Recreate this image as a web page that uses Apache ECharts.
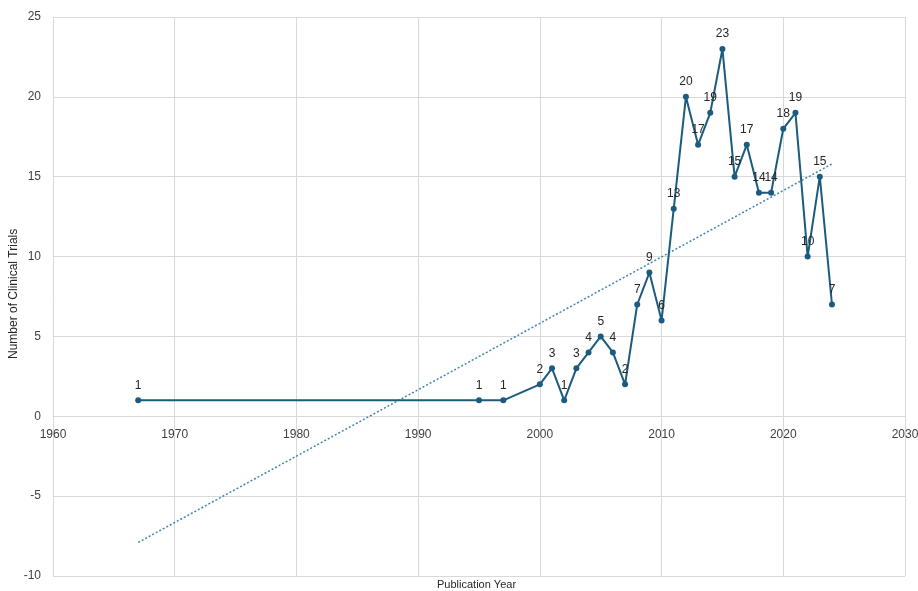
<!DOCTYPE html>
<html>
<head>
<meta charset="utf-8">
<style>
  html, body { margin: 0; padding: 0; background: #ffffff; }
  #chart { width: 918px; height: 591px; }
</style>
<script src="https://cdn.jsdelivr.net/npm/echarts@6/dist/echarts.min.js"></script>
</head>
<body>
<div id="chart"></div>
<script>
// Publication years and number of clinical trials per year
const years = [1967, 1995, 1997, 2000, 2001, 2002, 2003, 2004, 2005, 2006, 2007, 2008, 2009, 2010,
               2011, 2012, 2013, 2014, 2015, 2016, 2017, 2018, 2019, 2020, 2021, 2022, 2023, 2024];
const trials = [1, 1, 1, 2, 3, 1, 3, 4, 5, 4, 2, 7, 9, 6,
                13, 20, 17, 19, 23, 15, 17, 14, 14, 18, 19, 10, 15, 7];

// Linear trend line endpoints
const trendYears = [1967, 2024];
const trendValues = [-7.9, 15.8];

// Axis ranges
const xTicks = [1960, 1970, 1980, 1990, 2000, 2010, 2020, 2030];
const yTicks = [-10, -5, 0, 5, 10, 15, 20, 25];

const FONT = 'Liberation Sans, Arial, sans-serif';
const lineColor = '#1b5c7e';
const gridColor = '#d9d9d9';

const GRID_TOP = 17, GRID_BOTTOM = 15, CHART_H = 591;
const plotH = CHART_H - GRID_TOP - GRID_BOTTOM;
const yMin = yTicks[0], yMax = yTicks[yTicks.length - 1];
// lift the year labels up to the zero line
const zeroOffset = -plotH * (0 - yMin) / (yMax - yMin);

const chart = echarts.init(document.getElementById('chart'));
chart.setOption({
  animation: false,
  backgroundColor: '#ffffff',
  grid: { left: 53, right: 13, top: GRID_TOP, bottom: GRID_BOTTOM, containLabel: false, outerBoundsMode: 'none' },
  xAxis: {
    type: 'value',
    min: xTicks[0],
    max: xTicks[xTicks.length - 1],
    interval: 10,
    offset: zeroOffset,
    axisLine: { show: true, onZero: false, lineStyle: { color: gridColor, width: 1 } },
    axisTick: { show: false },
    axisLabel: { color: '#404040', fontSize: 12, fontFamily: FONT, margin: 12, formatter: v => String(v) },
    splitLine: { show: true, lineStyle: { color: gridColor, width: 1 } }
  },
  yAxis: {
    type: 'value',
    min: yMin,
    max: yMax,
    interval: 5,
    axisLine: { show: false },
    axisTick: { show: false },
    axisLabel: { color: '#404040', fontSize: 12, fontFamily: FONT, margin: 12 },
    splitLine: { show: true, lineStyle: { color: gridColor, width: 1 } }
  },
  graphic: [
    {
      type: 'text',
      left: 437, top: 579,
      style: { text: 'Publication Year', fill: '#262626', font: '11px ' + FONT }
    },
    {
      type: 'text',
      x: 8, y: 359,
      rotation: Math.PI / 2,
      style: { text: 'Number of Clinical Trials', fill: '#262626', font: '12px ' + FONT }
    }
  ],
  series: [
    {
      name: 'Trials',
      type: 'line',
      data: years.map((y, i) => [y, trials[i]]),
      symbol: 'circle',
      symbolSize: 6,
      lineStyle: { color: lineColor, width: 2 },
      itemStyle: { color: lineColor },
      label: {
        show: true,
        position: 'top',
        distance: 6,
        color: '#262626',
        fontSize: 12,
        fontFamily: FONT,
        formatter: p => p.value[1]
      },
      z: 3
    },
    {
      name: 'Trend',
      type: 'line',
      data: trendYears.map((y, i) => [y, trendValues[i]]),
      symbol: 'none',
      lineStyle: { color: '#3f87b0', width: 1.5, type: [2, 2] },
      silent: true,
      z: 2
    }
  ]
});
</script>
</body>
</html>
